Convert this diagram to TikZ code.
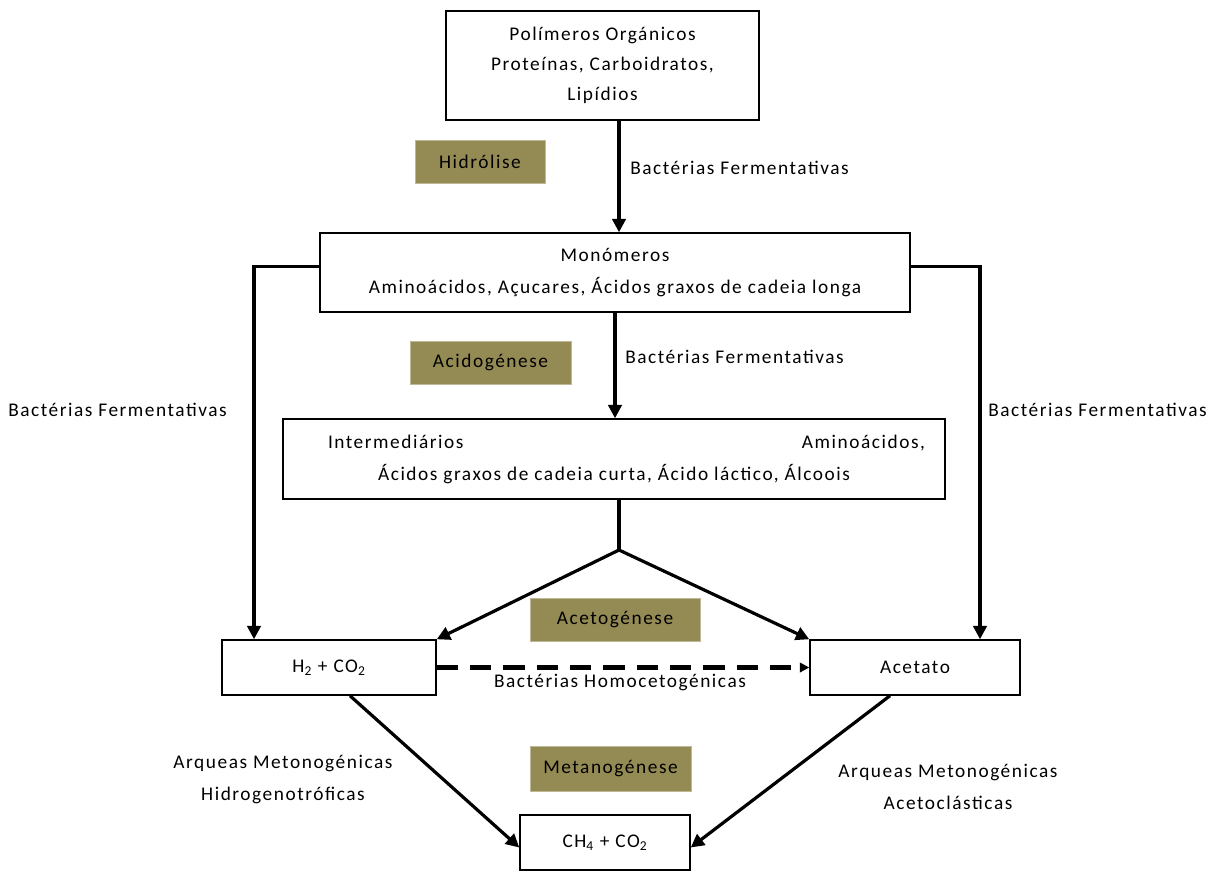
\documentclass[tikz,border=0pt]{standalone}
\usepackage{fontspec}
\setmainfont{Carlito}[LetterSpace=8]
\usetikzlibrary{arrows.meta,calc}
\definecolor{olive}{HTML}{948A54}
\begin{document}
\begin{tikzpicture}[x=0.75pt,y=-0.75pt,
  every node/.style={font=\fontsize{14.5}{24}\selectfont, inner sep=0pt},
  box/.style={draw, line width=1.1pt, rectangle, align=center},
  phase/.style={fill=olive, draw=olive!60!white, line width=0.6pt, rectangle},
  arr/.style={line width=2.4pt, -{Triangle[length=10pt,width=10pt]}},
  dash arr/.style={line width=3.6pt, dash pattern=on 16pt off 9pt, -{Triangle[length=7pt,width=7pt]}},
  lbl/.style={align=center}]
\useasboundingbox (0,0) rectangle (1210,871);
% boxes
\node[box, minimum width=234.75pt, minimum height=81.75pt, font=\fontsize{14.5}{22.5}\selectfont] (top) at (602.5,65.5)
  {Polímeros Orgánicos\\Proteínas, Carboidratos,\\Lipídios};
\node[box, minimum width=442.5pt, minimum height=59.25pt] (mono) at (615,272.5)
  {Monómeros\\Aminoácidos, Açucares, Ácidos graxos de cadeia longa};
\node[box, minimum width=496.5pt, minimum height=60pt] (inter) at (614,459)
  {\hspace*{18.75pt}\makebox[447.75pt]{Intermediários\hfill Aminoácidos,}\\Ácidos graxos de cadeia curta, Ácido láctico, Álcoois};
\node[box, minimum width=160.5pt, minimum height=41.25pt] (h2) at (329,667.5) {H\textsubscript{2} + CO\textsubscript{2}};
\node[box, minimum width=157.5pt, minimum height=41.25pt] (acet) at (915,667.5) {Acetato};
\node[box, minimum width=127.5pt, minimum height=41.25pt] (ch4) at (605,842.5) {CH\textsubscript{4} + CO\textsubscript{2}};
% phase labels
\node[phase, minimum width=97.5pt, minimum height=32.25pt] (hid) at (480,161.5) {Hidrólise};
\node[phase, minimum width=120.75pt, minimum height=32.25pt] (acid) at (490.5,362.5) {Acidogénese};
\node[phase, minimum width=127.5pt, minimum height=32.25pt] (acetog) at (615,619.5) {Acetogénese};
\node[phase, minimum width=120.75pt, minimum height=33.75pt] (metan) at (610.5,768.5) {Metanogénese};
% text labels
\node[anchor=west] (l1) at (630,168) {Bactérias Fermentativas};
\node[anchor=west] (l2) at (625,357) {Bactérias Fermentativas};
\node[anchor=west] (l3) at (8,410) {Bactérias Fermentativas};
\node[anchor=west] (l4) at (988,410) {Bactérias Fermentativas};
\node (l5) at (620,683) {Bactérias Homocetogénicas};
\node[lbl] (l6) at (283,779) {Arqueas Metonogénicas\\Hidrogenotróficas};
\node[lbl] (l7) at (948,787) {Arqueas Metonogénicas\\Acetoclásticas};
% connectors
\coordinate (split) at (619,550);
\draw[arr] (top.south -| split) -- (mono.north -| split);
\draw[arr] (mono.south) -- (inter.north -| mono.south);
\draw[arr] ($(mono.west)+(0,-6)$) -| ($(h2.north)+(-75,0)$);
\draw[arr] ($(mono.east)+(0,-6)$) -| ($(acet.north)+(65,0)$);
\draw[line width=2.4pt] (inter.south -| split) -- (split);
\draw[arr] (split) -- (h2.north east);
\draw[arr] (split) -- (acet.north west);
\draw[dash arr] (h2.east) -- (acet.west);
\draw[arr] ($(h2.south)+(21,0)$) -- ($(ch4.west)+(0,5)$);
\draw[arr] ($(acet.south)+(-25,0)$) -- ($(ch4.east)+(0,5)$);
\end{tikzpicture}
\end{document}
